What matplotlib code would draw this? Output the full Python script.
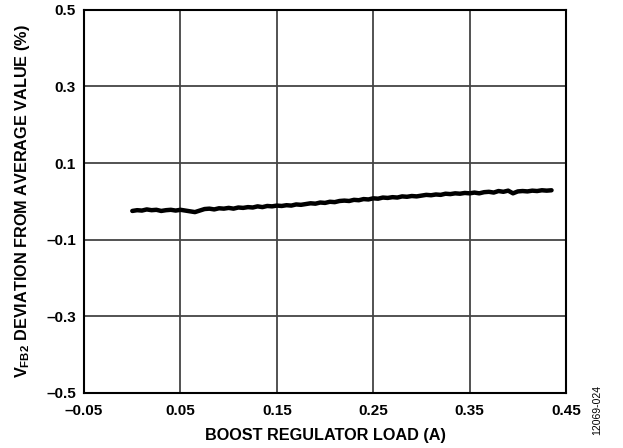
import matplotlib
matplotlib.use("Agg")
import matplotlib.pyplot as plt

# boost regulator load (A)
load = [0.000, 0.005, 0.010, 0.015, 0.020, 0.025, 0.030, 0.035, 0.040, 0.045,
        0.050, 0.055, 0.060, 0.065, 0.070, 0.075, 0.080, 0.085, 0.090, 0.095,
        0.100, 0.105, 0.110, 0.115, 0.120, 0.125, 0.130, 0.135, 0.140, 0.145,
        0.150, 0.155, 0.160, 0.165, 0.170, 0.175, 0.180, 0.185, 0.190, 0.195,
        0.200, 0.205, 0.210, 0.215, 0.220, 0.225, 0.230, 0.235, 0.240, 0.245,
        0.250, 0.255, 0.260, 0.265, 0.270, 0.275, 0.280, 0.285, 0.290, 0.295,
        0.300, 0.305, 0.310, 0.315, 0.320, 0.325, 0.330, 0.335, 0.340, 0.345,
        0.350, 0.355, 0.360, 0.365, 0.370, 0.375, 0.380, 0.385, 0.390, 0.395,
        0.400, 0.405, 0.410, 0.415, 0.420, 0.425, 0.430, 0.435]
# VFB2 deviation from average (%)
dev = [-0.025, -0.023, -0.024, -0.021, -0.023, -0.022, -0.025, -0.023, -0.022, -0.024,
       -0.022, -0.024, -0.026, -0.028, -0.024, -0.020, -0.019, -0.021, -0.018, -0.019,
       -0.017, -0.019, -0.016, -0.017, -0.015, -0.016, -0.013, -0.015, -0.012, -0.013,
       -0.011, -0.012, -0.010, -0.011, -0.008, -0.009, -0.007, -0.005, -0.006, -0.003,
       -0.004, -0.001, -0.002, 0.001, 0.002, 0.001, 0.004, 0.003, 0.006, 0.005,
       0.008, 0.007, 0.010, 0.009, 0.011, 0.010, 0.013, 0.012, 0.014, 0.013,
       0.015, 0.017, 0.016, 0.018, 0.017, 0.020, 0.019, 0.021, 0.020, 0.022,
       0.021, 0.023, 0.021, 0.024, 0.025, 0.023, 0.027, 0.025, 0.028, 0.021,
       0.026, 0.027, 0.026, 0.028, 0.027, 0.029, 0.028, 0.029]

xticks = [-0.05, 0.05, 0.15, 0.25, 0.35, 0.45]
yticks = [-0.5, -0.3, -0.1, 0.1, 0.3, 0.5]

plt.rcParams['font.family'] = ['Liberation Sans', 'DejaVu Sans']
plt.rcParams['mathtext.fontset'] = 'custom'
plt.rcParams['mathtext.rm'] = 'Liberation Sans:bold'
plt.rcParams['mathtext.bf'] = 'Liberation Sans:bold'

fig = plt.figure(figsize=(6.23, 4.48), dpi=100)
ax = fig.add_axes([0.135, 0.123, 0.7735, 0.855])

ax.plot(load, dev, color='black', linewidth=3.2, solid_capstyle='round')

ax.set_xlim(-0.05, 0.45)
ax.set_ylim(-0.5, 0.5)
ax.set_xticks(xticks)
ax.set_yticks(yticks)
ax.set_xticklabels(["%.2f" % v if v >= 0 else "\u2013%.2f" % -v for v in xticks],
                   fontweight='bold', fontsize=11)
ax.set_yticklabels(["%.1f" % v if v >= 0 else "\u2013%.1f" % -v for v in yticks],
                   fontweight='bold', fontsize=11)
ax.tick_params(axis='x', length=0, pad=8)
ax.tick_params(axis='y', length=0, pad=6)
ax.grid(True, color='#444444', linewidth=1.3)
ax.set_axisbelow(True)
for sp in ax.spines.values():
    sp.set_linewidth(1.5)

ax.set_xlabel("BOOST REGULATOR LOAD (A)", fontweight='bold', fontsize=11.7, labelpad=7)
ax.set_ylabel(r"V$_{\mathbf{FB2}}$ DEVIATION FROM AVERAGE VALUE (%)",
              fontweight='bold', fontsize=11.7, labelpad=10)

fig.text(0.958, 0.03, "12069-024", rotation=90, fontsize=7.5, ha='center', va='bottom')

fig.savefig("out.png", dpi=100)
